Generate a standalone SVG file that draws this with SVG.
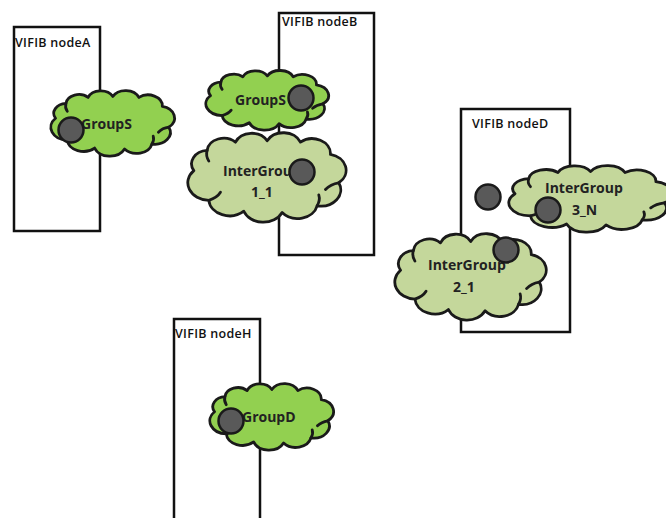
<svg xmlns="http://www.w3.org/2000/svg" width="666" height="518" viewBox="0 0 666 518">
<style>
.box{fill:#fff;stroke:#111;stroke-width:2.5}
.lbl{font-family:"Open Sans","Liberation Sans",sans-serif;font-size:12.5px;font-weight:600;fill:#111;letter-spacing:0.3px}
.ctext{font-family:"Open Sans","Liberation Sans",sans-serif;font-size:14px;font-weight:700;fill:#222}
.c-out{stroke:#1a1a1a;stroke-width:2.8;vector-effect:non-scaling-stroke;stroke-linejoin:round}
.c-hook{fill:none;stroke:#1a1a1a;stroke-width:2.8;vector-effect:non-scaling-stroke;stroke-linecap:round}
.g1{fill:#92D050}
.g2{fill:#C4D79B}
.dot{fill:#595959;stroke:#1a1a1a;stroke-width:2.5}
</style>
<defs>
<g id="cloud">
<path class="c-out" d="M12 52 A20 20 0 0 1 28 22 A20 20 0 0 1 62 10 A21 21 0 0 1 100 8 A22 22 0 0 1 140 10 A22 22 0 0 1 176 28 A24 24 0 0 1 186 70 A24 24 0 0 1 160 104 A24 24 0 0 1 118 114 A25 25 0 0 1 72 112 A25 25 0 0 1 30 96 A26 26 0 0 1 12 52 Z"/>
<path class="c-hook" d="M186 70 Q176 72 170 80"/>
<path class="c-hook" d="M160 104 Q164 96 162 88"/>
<path class="c-hook" d="M30 96 Q40 92 44 84"/>
<path class="c-hook" d="M28 22 Q26 30 30 38"/>
</g>
</defs>
<g id="nodeA">
<rect class="box" x="14" y="27" width="86" height="204"/>
<text class="lbl" x="15" y="47">VIFIB nodeA</text>
</g>
<g id="nodeB">
<rect class="box" x="279" y="13" width="95" height="242"/>
<text class="lbl" x="282" y="26">VIFIB nodeB</text>
</g>
<g id="nodeD">
<rect class="box" x="461" y="109" width="109" height="223"/>
<text class="lbl" x="472" y="128">VIFIB nodeD</text>
</g>
<g id="nodeH">
<rect class="box" x="174" y="319" width="86" height="215"/>
<text class="lbl" x="175" y="338">VIFIB nodeH</text>
</g>
<g id="groupS-A">
<use href="#cloud" class="g1" transform="translate(51 90) scale(0.651 0.496) translate(-5 5)"/>
<text class="ctext" x="81" y="129">GroupS</text>
<circle class="dot" cx="71" cy="130" r="12.5"/>
</g>
<g id="groupS-B">
<use href="#cloud" class="g1" transform="translate(206 70) scale(0.646 0.451) translate(-5 5)"/>
<text class="ctext" x="235" y="105">GroupS</text>
<circle class="dot" cx="301" cy="98" r="12.5"/>
</g>
<g id="intergroup-1_1">
<use href="#cloud" class="g2" transform="translate(188 132) scale(0.833 0.677) translate(-5 5)"/>
<text class="ctext" x="223" y="176">InterGroup</text>
<text class="ctext" x="251" y="197">1_1</text>
<circle class="dot" cx="302" cy="172" r="12.5"/>
</g>
<g id="dot-D">
<circle class="dot" cx="488" cy="197" r="12.5"/>
</g>
<g id="intergroup-3_N">
<use href="#cloud" class="g2" transform="translate(509 165) scale(0.859 0.504) translate(-5 5)"/>
<text class="ctext" x="545" y="193">InterGroup</text>
<text class="ctext" x="572" y="215">3_N</text>
<circle class="dot" cx="548" cy="210" r="12.5"/>
</g>
<g id="intergroup-2_1">
<use href="#cloud" class="g2" transform="translate(395 233) scale(0.797 0.654) translate(-5 5)"/>
<text class="ctext" x="428" y="270">InterGroup</text>
<text class="ctext" x="453" y="292">2_1</text>
<circle class="dot" cx="506" cy="250" r="12.5"/>
</g>
<g id="groupD">
<use href="#cloud" class="g1" transform="translate(210 383) scale(0.651 0.504) translate(-5 5)"/>
<text class="ctext" x="242" y="422">GroupD</text>
<circle class="dot" cx="231" cy="421" r="12.5"/>
</g>
<g id="connectors"></g>
</svg>
